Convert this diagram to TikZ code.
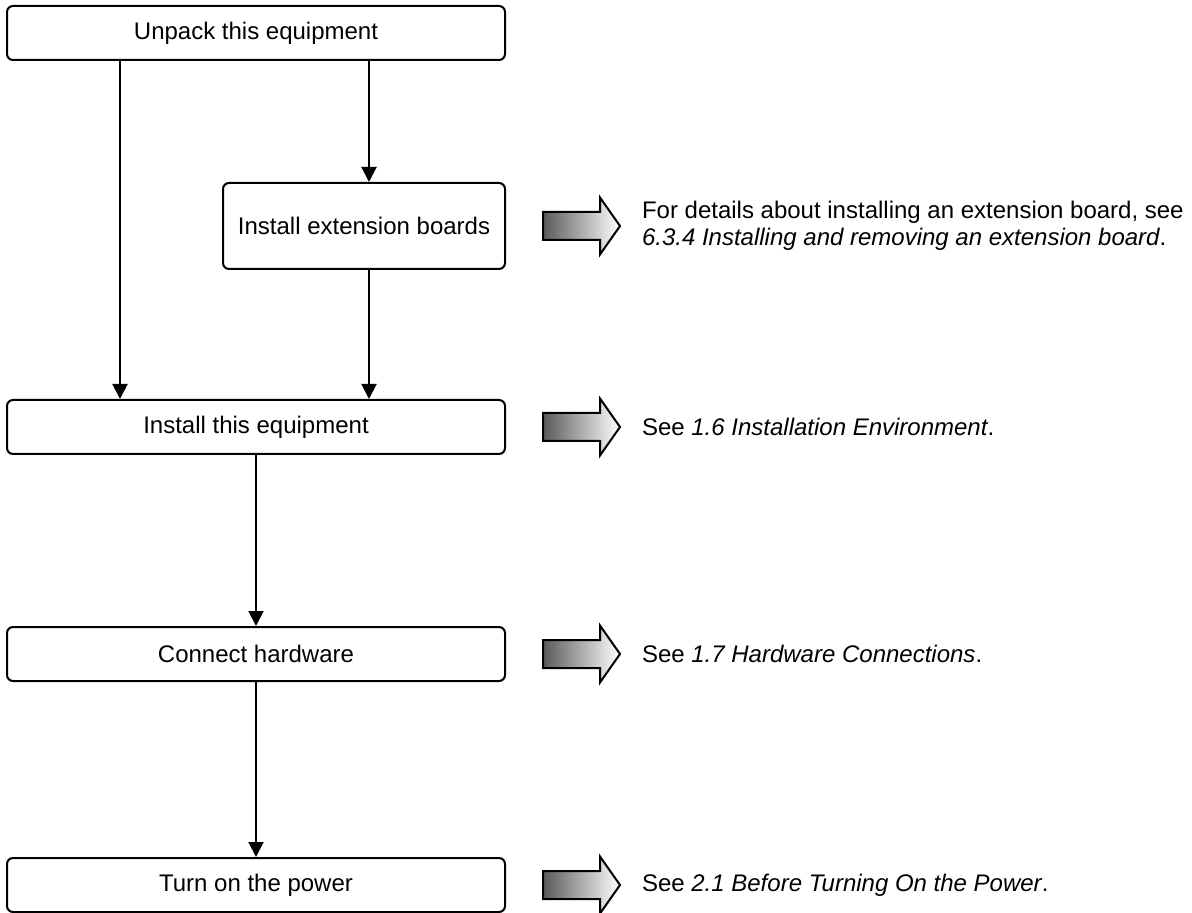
\documentclass[tikz,border=0pt]{standalone}
\usepackage{fontspec}
\setmainfont{Liberation Sans}
\usepackage{tikz}
\usetikzlibrary{arrows.meta}
\definecolor{arrowgray}{HTML}{5A5A5A}

\begin{document}
\begin{tikzpicture}[x=0.5pt,y=-0.5pt,->,>={Triangle[length=7.5pt,width=7.5pt]},line width=1pt,
  main box/.style={draw,rounded corners=3pt,minimum width=249pt,minimum height=27pt,
    inner sep=0pt,font=\fontsize{12}{13.5}\selectfont},
  note/.style={anchor=west,align=left,inner sep=0pt,font=\fontsize{12}{13.5}\selectfont},
  big arrow/.style={-,draw=black,line width=1pt,left color=arrowgray,right color=white}]

\useasboundingbox (0,0) rectangle (1192,913);

% steps
\node[main box] (unpack) at (256,33) {Unpack this equipment};
\node[main box,minimum width=141pt,minimum height=43pt] (ext) at (364,226) {Install extension boards};
\node[main box] (install) at (256,427) {Install this equipment};
\node[main box] (connect) at (256,654) {Connect hardware};
\node[main box] (power) at (256,885) {Turn on the power};

% references
\node[note] (note1) at (641,226) {For details about installing an extension board, see\\
  \textit{6.3.4 Installing and removing an extension board}.};
\node[note] (note2) at (641,427) {See \textit{1.6 Installation Environment}.};
\node[note] (note3) at (641,654) {See \textit{1.7 Hardware Connections}.};
\node[note] (note4) at (641,885) {See \textit{2.1 Before Turning On the Power}.};

\coordinate (col) at (543,0);
\foreach \n in {ext,install,connect,power}{
  \shadedraw[big arrow] (col |- \n) ++(0,-14) -- ++(57,0) -- ++(0,-14.5) -- ++(20,28.5)
    -- ++(-20,28.5) -- ++(0,-14.5) -- ++(-57,0) -- cycle;
}

\draw ([xshift=57pt]unpack.south west) -- ([xshift=57pt]install.north west);
\draw ([xshift=2.5pt]ext.north |- unpack.south) -- ([xshift=2.5pt]ext.north);
\draw ([xshift=2.5pt]ext.south) -- ([xshift=2.5pt]ext.south |- install.north);
\draw (install) -- (connect);
\draw (connect) -- (power);

\end{tikzpicture}
\end{document}
